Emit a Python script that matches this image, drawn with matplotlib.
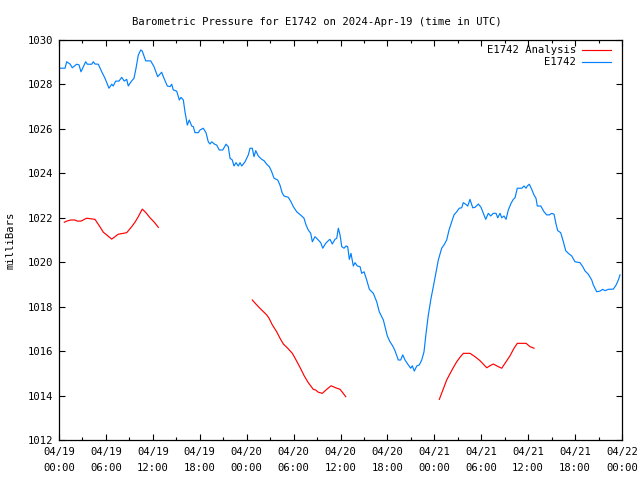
import matplotlib
matplotlib.use("Agg")
import matplotlib.pyplot as plt
import numpy as np

# ---- data (hours since 2024-04-19 00:00 UTC, millibars) ----
obs_hours = [0.13, 0.77, 0.98, 1.41, 1.70, 2.26, 2.56, 2.81, 3.41, 3.62, 4.18, 4.39, 4.60, 5.03,
             5.46, 5.88, 6.39, 6.74, 6.94, 7.25, 7.67, 8.02, 8.35, 8.66, 8.86, 9.21, 9.59, 9.85,
             10.14, 10.45, 10.65, 11.09, 11.73, 12.15, 12.62, 13.13, 13.34, 13.85, 14.20, 14.41,
             14.62, 15.05, 15.39, 15.60, 15.90, 16.11, 16.41, 16.66, 16.97, 17.18, 17.39, 17.82,
             18.03, 18.45, 18.80, 19.09, 19.31, 19.53, 19.86, 20.17, 20.50, 20.94, 21.36, 21.65,
             21.87, 22.16, 22.38, 22.64, 22.93, 23.15, 23.37, 23.79, 24.21, 24.43, 24.72, 24.94,
             25.16, 25.49, 25.92, 26.22, 26.56, 26.90, 27.20, 27.50, 27.97, 28.26, 28.56, 28.78,
             29.33, 29.67, 29.97, 30.40, 31.04, 31.33, 31.59, 31.88, 32.19, 32.40, 32.74, 33.16,
             33.47, 33.73, 34.11, 34.53, 34.66, 34.95, 35.30, 35.52, 35.72, 35.94, 36.16, 36.45,
             36.71, 36.92, 37.13, 37.34, 37.64, 37.86, 38.15, 38.50, 38.71, 39.01, 39.35, 39.69,
             40.20, 40.63, 40.96, 41.27, 41.48, 41.69, 41.99, 42.33, 42.68, 42.97, 43.39, 43.70,
             43.96, 44.25, 44.67, 44.98, 45.18, 45.44, 45.75, 46.08, 46.39, 46.68, 46.94, 47.23,
             47.58, 47.87, 48.22, 48.51, 48.73, 48.94, 49.24, 49.58, 49.88, 50.22, 50.52, 50.86,
             51.19, 51.50, 51.70, 52.01, 52.27, 52.56, 52.91, 53.20, 53.63, 53.97, 54.27, 54.57,
             54.90, 55.21, 55.54, 55.89, 56.11, 56.40, 56.62, 56.91, 57.17, 57.46, 57.81, 58.10,
             58.32, 58.61, 59.18, 59.47, 59.73, 59.89, 60.15, 60.45, 60.75, 61.00, 61.17, 61.61,
             62.03, 62.37, 62.71, 63.01, 63.31, 63.56, 63.78, 64.16, 64.50, 64.80, 65.14, 65.57,
             65.99, 66.63, 66.98, 67.27, 67.69, 68.13, 68.33, 68.77, 69.19, 69.53, 69.83, 70.25,
             70.89, 71.24, 71.53, 71.75]
obs_mb = [1028.73, 1028.73, 1029.02, 1028.92, 1028.75, 1028.91, 1028.88, 1028.57, 1029.02, 1028.91,
          1028.91, 1029.02, 1028.92, 1028.91, 1028.57, 1028.28, 1027.83, 1028.01, 1027.93, 1028.15,
          1028.15, 1028.32, 1028.15, 1028.23, 1027.93, 1028.12, 1028.28, 1028.73, 1029.32, 1029.55,
          1029.50, 1029.06, 1029.06, 1028.80, 1028.35, 1028.55, 1028.35, 1027.93, 1027.90, 1028.01,
          1027.75, 1027.70, 1027.30, 1027.42, 1027.30, 1026.77, 1026.17, 1026.40, 1026.13, 1026.10,
          1025.83, 1025.83, 1025.95, 1026.03, 1025.83, 1025.42, 1025.32, 1025.42, 1025.32, 1025.27,
          1025.05, 1025.05, 1025.31, 1025.20, 1024.68, 1024.60, 1024.33, 1024.48, 1024.33, 1024.48,
          1024.33, 1024.52, 1024.83, 1025.13, 1025.13, 1024.75, 1025.02, 1024.78, 1024.63, 1024.57,
          1024.41, 1024.30, 1024.07, 1023.78, 1023.70, 1023.47, 1023.10, 1022.98, 1022.92, 1022.72,
          1022.50, 1022.27, 1022.08, 1021.98, 1021.68, 1021.45, 1021.30, 1020.92, 1021.15, 1021.00,
          1020.88, 1020.63, 1020.85, 1021.00, 1021.03, 1020.82, 1021.03, 1021.08, 1021.53, 1021.23,
          1020.70, 1020.63, 1020.73, 1020.70, 1020.13, 1020.40, 1019.83, 1019.98, 1019.83, 1019.80,
          1019.50, 1019.57, 1019.20, 1018.78, 1018.60, 1018.22, 1017.77, 1017.55, 1017.40, 1017.10,
          1016.68, 1016.42, 1016.23, 1016.02, 1015.60, 1015.60, 1015.83, 1015.60, 1015.38, 1015.23,
          1015.34, 1015.10, 1015.33, 1015.38, 1015.60, 1015.97, 1016.80, 1017.62, 1018.38, 1018.90,
          1019.57, 1020.10, 1020.37, 1020.63, 1020.78, 1021.00, 1021.45, 1021.82, 1022.13, 1022.27,
          1022.43, 1022.45, 1022.68, 1022.61, 1022.53, 1022.83, 1022.45, 1022.47, 1022.62, 1022.47,
          1022.20, 1021.93, 1022.20, 1022.08, 1022.20, 1022.20, 1022.00, 1022.20, 1022.00, 1022.08,
          1021.93, 1022.35, 1022.65, 1022.83, 1022.90, 1023.33, 1023.33, 1023.43, 1023.33, 1023.43,
          1023.51, 1023.28, 1023.02, 1022.88, 1022.53, 1022.53, 1022.27, 1022.13, 1022.13, 1022.20,
          1022.16, 1021.72, 1021.42, 1021.33, 1020.92, 1020.52, 1020.40, 1020.28, 1020.02, 1019.98,
          1019.80, 1019.61, 1019.46, 1019.20, 1018.98, 1018.67, 1018.70, 1018.78, 1018.72, 1018.78,
          1018.79, 1018.97, 1019.20, 1019.43]

ana1_hours = [0.68, 0.98, 1.50, 2.05, 2.34, 2.81, 3.54, 3.96, 4.60, 5.15, 5.67, 6.23, 6.74, 7.16,
              7.58, 8.22, 8.66, 9.30, 9.72, 10.14, 10.65, 11.09, 11.64, 12.19, 12.70]
ana1_mb = [1021.80, 1021.85, 1021.90, 1021.90, 1021.85, 1021.85, 1021.98, 1021.96, 1021.93, 1021.64,
           1021.35, 1021.19, 1021.04, 1021.15, 1021.26, 1021.30, 1021.33, 1021.60, 1021.80, 1022.05,
           1022.39, 1022.24, 1022.00, 1021.80, 1021.57]
ana2_hours = [24.72, 25.28, 25.92, 26.56, 26.86, 27.28, 27.84, 28.26, 28.69, 29.25, 29.84, 30.27,
              30.82, 31.37, 31.88, 32.52, 32.83, 33.16, 33.67, 34.24, 34.79, 35.39, 35.94, 36.28, 36.67]
ana2_mb = [1018.30, 1018.08, 1017.85, 1017.63, 1017.48, 1017.18, 1016.87, 1016.58, 1016.32, 1016.13,
           1015.90, 1015.63, 1015.27, 1014.88, 1014.58, 1014.28, 1014.25, 1014.15, 1014.10, 1014.28,
           1014.44, 1014.35, 1014.28, 1014.13, 1013.95]
ana3_hours = [48.64, 49.58, 50.30, 50.86, 51.28, 51.71, 52.56, 53.20, 53.84, 54.27, 54.70, 55.12,
              55.54, 56.18, 56.62, 57.04, 57.68, 58.19, 58.61, 59.73, 60.24, 60.75]
ana3_mb = [1013.83, 1014.70, 1015.18, 1015.52, 1015.72, 1015.90, 1015.90, 1015.75, 1015.57, 1015.41,
           1015.25, 1015.34, 1015.42, 1015.30, 1015.23, 1015.45, 1015.79, 1016.13, 1016.35, 1016.35,
           1016.20, 1016.13]

xtick_hours = [0, 6, 12, 18, 24, 30, 36, 42, 48, 54, 60, 66, 72]
xtick_labels = ["04/19\n00:00", "04/19\n06:00", "04/19\n12:00", "04/19\n18:00",
                "04/20\n00:00", "04/20\n06:00", "04/20\n12:00", "04/20\n18:00",
                "04/21\n00:00", "04/21\n06:00", "04/21\n12:00", "04/21\n18:00",
                "04/22\n00:00"]
ytick_vals = [1012, 1014, 1016, 1018, 1020, 1022, 1024, 1026, 1028, 1030]

title = "Barometric Pressure for E1742 on 2024-Apr-19 (time in UTC)"
ylabel = "milliBars"
label_ana = "E1742 Analysis"
label_obs = "E1742"

RED = "#ff0000"
BLUE = "#0080ff"

plt.rcParams['font.family'] = ['DejaVu Sans Mono']
FS = 7.6

fig = plt.figure(figsize=(6.4, 4.8), dpi=100)
ax = fig.add_axes([59/640, 40/480, 563/640, 400/480])

lw = 0.85
ax.plot(obs_hours, obs_mb, color=BLUE, lw=lw)
for hh, vv in [(ana1_hours, ana1_mb), (ana2_hours, ana2_mb), (ana3_hours, ana3_mb)]:
    ax.plot(hh, vv, color=RED, lw=lw)

ax.set_xlim(0, 72)
ax.set_ylim(1012, 1030)
ax.set_xticks(xtick_hours)
ax.set_xticklabels(xtick_labels, fontsize=FS, linespacing=1.75)
ax.set_xticks(np.arange(3, 72, 6), minor=True)
ax.set_yticks(ytick_vals)
ax.set_yticklabels([str(v) for v in ytick_vals], fontsize=FS)

ax.tick_params(which='major', direction='in', length=4, width=0.8, top=True, right=True, pad=4)
ax.tick_params(axis='x', which='major', pad=5)
ax.tick_params(which='minor', direction='in', length=2, width=0.8, top=True, right=False)
ax.tick_params(axis='y', which='minor', left=False, right=False)
for s in ax.spines.values():
    s.set_linewidth(0.9)

ax.set_title(title, fontsize=FS, pad=11, x=0.458)
ax.set_ylabel(ylabel, fontsize=FS, labelpad=9)

# legend (gnuplot style: right-aligned text, sample line to the right)
for yy, lab, col in [(0.975, label_ana, RED), (0.945, label_obs, BLUE)]:
    ax.text(0.918, yy, lab, transform=ax.transAxes, ha='right', va='center', fontsize=FS)
    ax.plot([0.929, 0.980], [yy, yy], transform=ax.transAxes, color=col, lw=lw)

fig.savefig("out.png", dpi=100)
